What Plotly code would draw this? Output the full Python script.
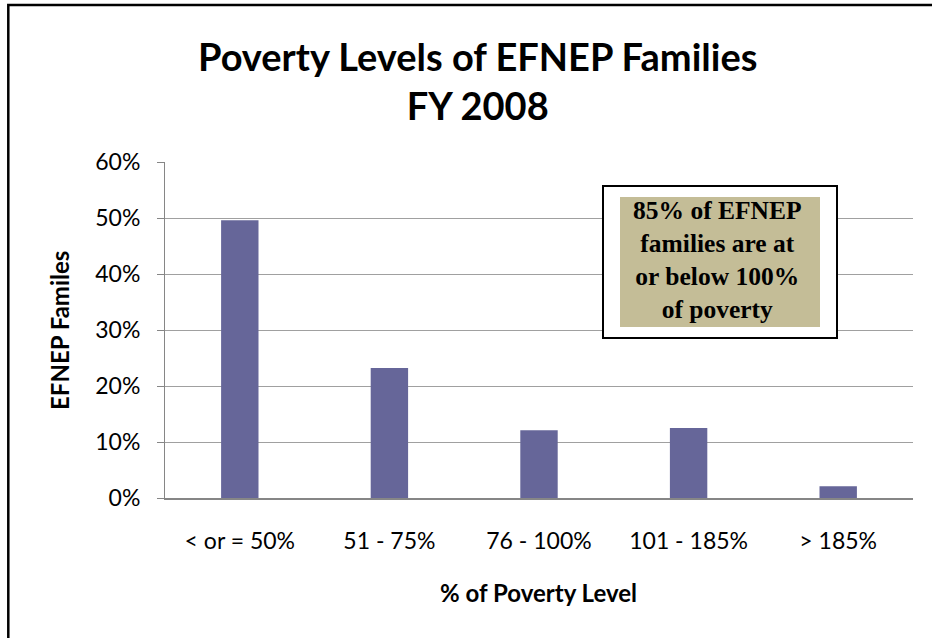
import plotly.graph_objects as go

categories = ["< or = 50%", "51 - 75%", "76 - 100%", "101 - 185%", "> 185%"]
values = [0.496, 0.232, 0.121, 0.125, 0.021]
y_ticks = [0, 0.1, 0.2, 0.3, 0.4, 0.5, 0.6]
y_tick_labels = ["0%", "10%", "20%", "30%", "40%", "50%", "60%"]

title_text = "<b>Poverty Levels of EFNEP Families<br>FY 2008</b>"
note_text = "<b>85% of EFNEP<br>families are at<br>or below 100%<br>of poverty</b>"
x_title = "<b>% of Poverty Level</b>"
y_title = "<b>EFNEP Familes</b>"

W, H = 932, 638
L, R, T, B = 165, 19, 162, 140
pw, ph = W - L - R, H - T - B


def px(x):
    return (x - L) / pw


def py(y):
    return (H - B - y) / ph


fig = go.Figure(
    go.Bar(
        x=categories,
        y=values,
        marker=dict(color="#666699", line=dict(width=0)),
        width=0.25,
        hoverinfo="skip",
    )
)

fig.update_layout(
    width=W,
    height=H,
    margin=dict(l=L, r=R, t=T, b=B),
    paper_bgcolor="white",
    plot_bgcolor="white",
    showlegend=False,
    font=dict(family="Lato", color="black"),
    xaxis=dict(
        showline=True,
        linecolor="#868686",
        linewidth=1.5,
        ticks="",
        tickfont=dict(size=23, family="Lato"),
        ticklabelstandoff=22,
        showgrid=False,
    ),
    yaxis=dict(
        range=[0, 0.6],
        tickvals=y_ticks,
        ticktext=y_tick_labels,
        showline=True,
        linecolor="#868686",
        linewidth=1,
        ticks="outside",
        ticklen=7,
        tickcolor="#868686",
        tickfont=dict(size=23, family="Lato"),
        ticklabelstandoff=12,
        showgrid=True,
        gridcolor="#a0a0a0",
        gridwidth=1,
        zeroline=False,
    ),
    shapes=[
        dict(type="rect", xref="paper", yref="paper",
             x0=px(8.3), x1=px(960), y0=py(680), y1=py(5),
             line=dict(color="black", width=2.5), fillcolor="rgba(0,0,0,0)", layer="above"),
        dict(type="rect", xref="paper", yref="paper",
             x0=px(603), x1=px(837), y0=py(338), y1=py(186),
             line=dict(color="black", width=2), fillcolor="white", layer="above"),
        dict(type="rect", xref="paper", yref="paper",
             x0=px(620), x1=px(820), y0=py(327), y1=py(197),
             line=dict(width=0), fillcolor="#C4BD97", layer="above"),
    ],
    annotations=[
        dict(text=title_text, xref="paper", yref="paper",
             x=px(477), y=py(81), xanchor="center", yanchor="middle",
             showarrow=False, align="center",
             font=dict(family="Lato", size=38, color="black")),
        dict(text=note_text, xref="paper", yref="paper",
             x=px(717), y=py(260), xanchor="center", yanchor="middle",
             showarrow=False, align="center",
             font=dict(family="Liberation Serif", size=25.5, color="black")),
        dict(text=x_title, xref="paper", yref="paper",
             x=px(538), y=py(592), xanchor="center", yanchor="middle",
             showarrow=False, font=dict(family="Lato", size=24, color="black")),
        dict(text=y_title, xref="paper", yref="paper",
             x=px(59), y=py(330), xanchor="center", yanchor="middle",
             showarrow=False, textangle=-90,
             font=dict(family="Lato", size=24, color="black")),
    ],
)

fig.write_html("out.html", config={"displayModeBar": False},
               post_script="document.body.style.margin='0';")
